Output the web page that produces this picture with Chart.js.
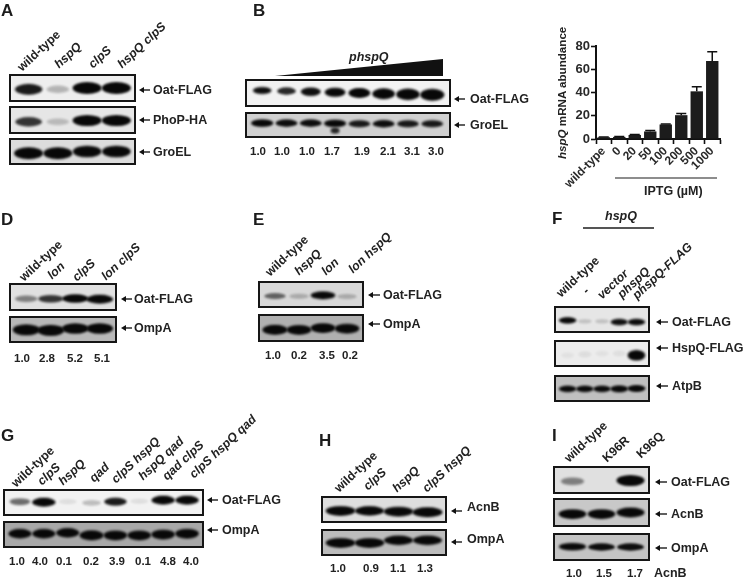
<!DOCTYPE html>
<html>
<head>
<meta charset="utf-8">
<title>HspQ blots</title>
<script src="https://cdn.jsdelivr.net/npm/chart.js@4"></script>
<style>
  html, body { margin: 0; padding: 0; background: #fff; }
  #fig { position: relative; width: 747px; height: 580px; overflow: hidden; font-family: "Liberation Sans", Arial, sans-serif; color: #222; filter: blur(0.3px); }
  #fig canvas { position: absolute; }
  #marks { position: absolute; left: 0; top: 0; }
  .t { position: absolute; white-space: nowrap; font-weight: bold; line-height: 14px; }
  .letter { font-size: 17px; line-height: 18px; color: #1c1c1c; }
  .name { font-size: 12.5px; transform: translateY(-50%); }
  .num { font-size: 11.5px; transform: translate(-50%, -50%); }
  .lane { font-size: 12.3px; font-style: italic; transform-origin: 0 100%; transform: rotate(-43deg); }
  .lane.plain { font-style: normal; }
</style>
</head>
<body>
<div id="fig">
  <svg id="marks" width="747" height="580"></svg>
</div>
<script>
"use strict";

// lane names
const aLanes = ['wild-type', 'hspQ', 'clpS', 'hspQ clpS'];
const dLanes = ['wild-type', 'lon', 'clpS', 'lon clpS'];
const eLanes = ['wild-type', 'hspQ', 'lon', 'lon hspQ'];
const fLanes = ['wild-type', '-', 'vector', 'phspQ', 'phspQ-FLAG'];
const gLanes = ['wild-type', 'clpS', 'hspQ', 'qad', 'clpS hspQ', 'hspQ qad', 'qad clpS', 'clpS hspQ qad'];
const hLanes = ['wild-type', 'clpS', 'hspQ', 'clpS hspQ'];
const iLanes = ['wild-type', 'K96R', 'K96Q'];
const plainLanes = ['wild-type', '-', 'K96R', 'K96Q'];

// printed quantification under the blots
const bNums = ['1.0', '1.0', '1.0', '1.7', '1.9', '2.1', '3.1', '3.0'];
const dNums = ['1.0', '2.8', '5.2', '5.1'];
const eNums = ['1.0', '0.2', '3.5', '0.2'];
const gNums = ['1.0', '4.0', '0.1', '0.2', '3.9', '0.1', '4.8', '4.0'];
const hNums = ['1.0', '0.9', '1.1', '1.3'];
const iNums = ['1.0', '1.5', '1.7'];

// band darkness per lane (0 - 1) and how far down the strip it ran (0 - 1)
const aOat = [0.8, 0.22, 1, 1];
const aOatRun = [0.57, 0.57, 0.5, 0.5];
const aPhoP = [0.7, 0.18, 1, 1];
const aPhoPRun = [0.6, 0.6, 0.53, 0.53];
const aGro = [1, 1, 0.95, 0.95];
const aGroRun = [0.6, 0.6, 0.5, 0.5];

const bOat = [0.85, 0.75, 0.85, 0.9, 0.95, 1, 1, 1];
const bOatRun = [0.36, 0.39, 0.43, 0.46, 0.5, 0.54, 0.57, 0.6];
const bGro = [0.9, 0.85, 0.85, 0.9, 0.8, 0.85, 0.8, 0.8];
const bGroRun = [0.38, 0.38, 0.38, 0.4, 0.42, 0.42, 0.42, 0.42];
const bGroSmudge = [0, 0, 0, 0.75, 0, 0, 0, 0];
const bGroSmudgeRun = [0.85, 0.85, 0.85, 0.85, 0.85, 0.85, 0.85, 0.85];

const dOat = [0.4, 0.7, 0.9, 0.95];
const dOatRun = [0.6, 0.6, 0.58, 0.62];
const dOmp = [1, 1, 0.95, 0.95];
const dOmpRun = [0.52, 0.55, 0.44, 0.44];

const eOat = [0.5, 0.2, 0.95, 0.2];
const eOatRun = [0.59, 0.6, 0.55, 0.62];
const eOmp = [1, 0.95, 0.95, 0.95];
const eOmpRun = [0.6, 0.6, 0.5, 0.53];

const fOat = [0.9, 0.15, 0.15, 0.85, 0.9];
const fOatRun = [0.55, 0.6, 0.6, 0.65, 0.65];
const fHsp = [0.04, 0.06, 0.04, 0.05, 0.95];
const fHspRun = [0.6, 0.55, 0.5, 0.5, 0.6];
const fAtp = [0.9, 0.9, 0.9, 0.95, 0.95];
const fAtpRun = [0.52, 0.52, 0.52, 0.52, 0.5];

const gOat = [0.5, 0.95, 0.08, 0.2, 0.8, 0.08, 0.95, 0.95];
const gOatRun = [0.45, 0.48, 0.45, 0.52, 0.45, 0.42, 0.36, 0.36];
const gOmp = [0.9, 0.9, 0.9, 1, 0.95, 0.95, 0.95, 0.95];
const gOmpRun = [0.45, 0.45, 0.4, 0.55, 0.55, 0.55, 0.5, 0.45];

const hAcn = [0.95, 0.9, 0.95, 1];
const hAcnRun = [0.58, 0.58, 0.62, 0.66];
const hOmp = [0.95, 0.95, 0.9, 0.9];
const hOmpRun = [0.52, 0.52, 0.37, 0.37];

const iOat = [0.4, 0, 1];
const iOatRun = [0.57, 0.57, 0.53];
const iAcn = [0.95, 0.95, 1];
const iAcnRun = [0.58, 0.58, 0.5];
const iOmp = [0.9, 0.85, 0.85];
const iOmpRun = [0.48, 0.5, 0.5];

// panel C
const iptgLabels = ['wild-type', '0', '20', '50', '100', '200', '500', '1000'];
const mrnaMean = [1.5, 1.8, 3.5, 6.5, 12.5, 20.5, 41, 67];
const mrnaTop = [1.8, 2.1, 3.9, 7.3, 13, 22, 45, 75];
const mrnaTicks = [0, 20, 40, 60, 80];

// layout of the panels, pixels on the page
const panels = [
  { letter: 'A', lx: 1, ly: 2, lanes: aLanes, laneX: [18, 55, 89, 118], laneY: [71, 68, 68, 68],
    x: 9, w: 127, first: 28, last: 120, bandW: 29, arrow: [139, 150], tx: 153,
    strips: [
      { name: 'Oat-FLAG', y: 74, h: 28, bands: aOat, run: aOatRun, bg: '#eeeeee', bandH: 12, ty: 90 },
      { name: 'PhoP-HA', y: 106, h: 28, bands: aPhoP, run: aPhoPRun, bg: '#e6e6e6', bandH: 11, ty: 120 },
      { name: 'GroEL', y: 138, h: 27, bands: aGro, run: aGroRun, bg: '#dcdcdc', bandH: 12, ty: 152 }
    ] },
  { letter: 'B', lx: 253, ly: 2, x: 245, w: 206, first: 259, last: 432, bandW: 23, arrow: [454, 465], tx: 470,
    nums: bNums, numX: [258, 282, 307, 332, 362, 388, 412, 436], numY: 151,
    strips: [
      { name: 'Oat-FLAG', y: 79, h: 28, bands: bOat, run: bOatRun, bg: '#f2f2f2', bandH: 9, ty: 99, grow: true },
      { name: 'GroEL', y: 112, h: 26, bands: bGro, run: bGroRun, bg: '#d0d0d0', bandH: 8, ty: 125,
        smudge: bGroSmudge, smudgeRun: bGroSmudgeRun }
    ] },
  { letter: 'D', lx: 1, ly: 211, lanes: dLanes, laneX: [20, 48, 73, 102], laneY: [281, 279, 281, 280],
    x: 9, w: 108, first: 25, last: 103, bandW: 27, arrow: [121, 132], tx: 134,
    nums: dNums, numX: [22, 47, 75, 102], numY: 358,
    strips: [
      { name: 'Oat-FLAG', y: 283, h: 28, bands: dOat, run: dOatRun, bg: '#e0e0e0', bandH: 9, ty: 299 },
      { name: 'OmpA', y: 316, h: 27, bands: dOmp, run: dOmpRun, bg: '#b8b8b8', bandH: 11, ty: 328 }
    ] },
  { letter: 'E', lx: 253, ly: 211, lanes: eLanes, laneX: [266, 295, 322, 349], laneY: [276, 275, 275, 273],
    x: 258, w: 106, first: 273, last: 350, bandW: 25, arrow: [368, 380], tx: 383,
    nums: eNums, numX: [273, 299, 327, 350], numY: 355,
    strips: [
      { name: 'Oat-FLAG', y: 281, h: 27, bands: eOat, run: eOatRun, bg: '#d8d8d8', bandH: 8, ty: 295 },
      { name: 'OmpA', y: 314, h: 28, bands: eOmp, run: eOmpRun, bg: '#b0b0b0', bandH: 10, ty: 324 }
    ] },
  { letter: 'F', lx: 552, ly: 210, lanes: fLanes, laneX: [557, 583, 598, 618, 633], laneY: [297, 294, 299, 298, 299],
    x: 554, w: 96, first: 566, last: 641, bandW: 18, arrow: [656, 668], tx: 672,
    strips: [
      { name: 'Oat-FLAG', y: 306, h: 27, bands: fOat, run: fOatRun, bg: '#e6e6e6', bandH: 7, ty: 322 },
      { name: 'HspQ-FLAG', y: 340, h: 27, bands: fHsp, run: fHspRun, bg: '#ececec', bandH: 11, ty: 348 },
      { name: 'AtpB', y: 375, h: 27, bands: fAtp, run: fAtpRun, bg: '#c0c0c0', bandH: 7, ty: 386 }
    ] },
  { letter: 'G', lx: 1, ly: 427, lanes: gLanes, laneX: [12, 38, 59, 90, 112, 139, 163, 190], laneY: [487, 485, 485, 482, 483, 480, 480, 478],
    x: 3, w: 201, first: 18, last: 190, bandW: 24, arrow: [207, 218], tx: 222,
    nums: gNums, numX: [17, 40, 64, 91, 117, 143, 168, 191], numY: 561,
    strips: [
      { name: 'Oat-FLAG', y: 489, h: 27, bands: gOat, run: gOatRun, bg: '#f2f2f2', bandH: 9, ty: 500 },
      { name: 'OmpA', y: 521, h: 27, bands: gOmp, run: gOmpRun, bg: '#a8a8a8', bandH: 10, ty: 530 }
    ] },
  { letter: 'H', lx: 319, ly: 432, lanes: hLanes, laneX: [335, 364, 393, 423], laneY: [492, 490, 492, 492],
    x: 321, w: 126, first: 338, last: 428, bandW: 30, arrow: [451, 462], tx: 467,
    nums: hNums, numX: [338, 371, 398, 425], numY: 568,
    strips: [
      { name: 'AcnB', y: 496, h: 27, bands: hAcn, run: hAcnRun, bg: '#dedede', bandH: 10, ty: 507, ay: 511 },
      { name: 'OmpA', y: 529, h: 27, bands: hOmp, run: hOmpRun, bg: '#bcbcbc', bandH: 10, ty: 539, ay: 542 }
    ] },
  { letter: 'I', lx: 552, ly: 427, lanes: iLanes, laneX: [565, 603, 637], laneY: [462, 462, 458],
    x: 553, w: 97, first: 573, last: 634, bandW: 28, arrow: [655, 667], tx: 671,
    nums: iNums, numX: [574, 604, 635], numY: 573,
    strips: [
      { name: 'Oat-FLAG', y: 466, h: 28, bands: iOat, run: iOatRun, bg: '#e0e0e0', bandH: 11, ty: 482 },
      { name: 'AcnB', y: 498, h: 29, bands: iAcn, run: iAcnRun, bg: '#c8c8c8', bandH: 10, ty: 514 },
      { name: 'OmpA', y: 533, h: 28, bands: iOmp, run: iOmpRun, bg: '#c4c4c4', bandH: 8, ty: 548 }
    ] }
];

const fig = document.getElementById('fig');
const marks = document.getElementById('marks');

const addText = (x, y, str, cls) => {
  const el = document.createElement('div');
  el.className = 't ' + cls;
  el.style.left = x + 'px';
  el.style.top = y + 'px';
  el.innerHTML = str;
  fig.append(el);
  return el;
};

const addSvg = (tag, attrs) => {
  const el = document.createElementNS('http://www.w3.org/2000/svg', tag);
  Object.keys(attrs).forEach(k => el.setAttribute(k, attrs[k]));
  marks.append(el);
};

const addLine = (x1, y1, x2, y2, width) => {
  addSvg('line', { x1, y1, x2, y2, stroke: '#1c1c1c', 'stroke-width': width });
};

const addArrow = (x1, x2, y) => {
  addLine(x1 + 3, y, x2, y, 1.4);
  addSvg('polygon', { points: x1 + ',' + y + ' ' + (x1 + 5) + ',' + (y - 3) + ' ' + (x1 + 5) + ',' + (y + 3), fill: '#111' });
};

// a blurred band, used as the point image of a lane
const bandImage = (darkness, w, h) => {
  const pad = 7;
  const c = document.createElement('canvas');
  c.width = Math.ceil(w + pad * 2);
  c.height = Math.ceil(h + pad * 2);
  const ctx = c.getContext('2d');
  ctx.filter = 'blur(1px)';
  ctx.fillStyle = 'rgba(8,8,8,' + Math.min(1, darkness * 1.15) + ')';
  ctx.beginPath();
  ctx.ellipse(c.width / 2, c.height / 2, w / 2, h / 2, 0, 0, Math.PI * 2);
  ctx.fill();
  return c;
};

const stripFrame = {
  id: 'stripFrame',
  beforeDraw: (chart, args, opts) => {
    const ctx = chart.ctx;
    ctx.save();
    ctx.fillStyle = opts.bg;
    ctx.fillRect(0, 0, chart.width, chart.height);
    ctx.restore();
  },
  afterDraw: (chart) => {
    const ctx = chart.ctx;
    ctx.save();
    ctx.strokeStyle = '#161616';
    ctx.lineWidth = 2;
    ctx.strokeRect(1, 1, chart.width - 2, chart.height - 2);
    ctx.restore();
  }
};

const drawStrip = (panel, strip) => {
  const canvas = document.createElement('canvas');
  canvas.width = panel.w;
  canvas.height = strip.h;
  canvas.style.left = panel.x + 'px';
  canvas.style.top = strip.y + 'px';
  fig.append(canvas);

  const n = strip.bands.length;
  const step = (panel.last - panel.first) / (n - 1);
  const padLeft = Math.max(0, panel.first - step / 2 - panel.x);
  const padRight = Math.max(0, panel.x + panel.w - panel.last - step / 2);

  const laneBand = (values, context) => {
    const d = values[context.dataIndex];
    const along = context.dataIndex / (n - 1);
    const w = panel.bandW * (0.72 + 0.28 * d) * (strip.grow ? 0.85 + 0.2 * along : 1);
    const h = strip.bandH * (0.5 + 0.5 * d) * (strip.grow ? 0.85 + 0.5 * along : 1);
    return bandImage(d, w, h);
  };

  const datasets = [{
    data: strip.run,
    showLine: false,
    clip: false,
    pointRadius: 4,
    pointStyle: (context) => laneBand(strip.bands, context)
  }];
  if (strip.smudge) {
    datasets.push({
      data: strip.smudgeRun,
      showLine: false,
      clip: false,
      pointRadius: 4,
      pointStyle: (context) => bandImage(strip.smudge[context.dataIndex], 9, 6)
    });
  }

  return new Chart(canvas, {
    type: 'line',
    data: { labels: panel.lanes || strip.bands.map((v, i) => i + 1), datasets },
    plugins: [stripFrame],
    options: {
      responsive: false,
      animation: false,
      events: [],
      layout: { padding: { left: padLeft, right: padRight, top: 0, bottom: 0 } },
      plugins: { legend: { display: false }, tooltip: { enabled: false }, stripFrame: { bg: strip.bg } },
      scales: {
        x: { display: false, offset: true },
        y: { display: false, min: 0, max: 1, reverse: true }
      }
    }
  });
};

panels.forEach((panel) => {
  addText(panel.lx, panel.ly, panel.letter, 'letter');
  if (panel.lanes) {
    panel.lanes.forEach((lane, i) => {
      const cls = plainLanes.includes(lane) ? 'lane plain' : 'lane';
      addText(panel.laneX[i] + 6, panel.laneY[i] - 11, lane, cls);
    });
  }
  panel.strips.forEach((strip) => {
    drawStrip(panel, strip);
    addArrow(panel.arrow[0], panel.arrow[1], strip.ay || strip.ty);
    addText(panel.tx, strip.ty, strip.name, 'name');
  });
  if (panel.nums) {
    panel.nums.forEach((num, i) => addText(panel.numX[i], panel.numY, num, 'num'));
  }
});

// text and marks that belong to single panels
addText(349, 57, 'phspQ', 'name').style.fontStyle = 'italic';
addSvg('polygon', { points: '275,76 443,59 443,76', fill: '#111' });
addText(654, 573, 'AcnB', 'name');
addText(605, 216, 'hspQ', 'name').style.fontStyle = 'italic';
addLine(583, 228, 654, 228, 1.6);

// panel C
const errorCaps = {
  id: 'errorCaps',
  afterDatasetsDraw: (chart) => {
    const ctx = chart.ctx;
    const y = chart.scales.y;
    ctx.save();
    ctx.strokeStyle = '#111';
    ctx.lineWidth = 1.5;
    chart.getDatasetMeta(0).data.forEach((bar, i) => {
      const top = y.getPixelForValue(mrnaTop[i]);
      ctx.beginPath();
      ctx.moveTo(bar.x, y.getPixelForValue(mrnaMean[i]));
      ctx.lineTo(bar.x, top);
      ctx.moveTo(bar.x - 5, top);
      ctx.lineTo(bar.x + 5, top);
      ctx.stroke();
    });
    ctx.restore();
  }
};

const tickFont = { family: '"Liberation Sans", Arial, sans-serif', size: 12, weight: 'bold' };

const mrnaCanvas = document.createElement('canvas');
mrnaCanvas.width = 173;
mrnaCanvas.height = 162;
mrnaCanvas.style.left = '562px';
mrnaCanvas.style.top = '30px';
fig.append(mrnaCanvas);

new Chart(mrnaCanvas, {
  type: 'bar',
  data: {
    labels: iptgLabels,
    datasets: [{ data: mrnaMean, backgroundColor: '#1c1c1c', categoryPercentage: 1, barPercentage: 0.8 }]
  },
  plugins: [errorCaps],
  options: {
    responsive: false,
    animation: false,
    events: [],
    layout: { padding: { top: 16, right: 15, left: 0, bottom: 0 } },
    plugins: { legend: { display: false }, tooltip: { enabled: false } },
    scales: {
      x: {
        grid: { drawOnChartArea: false, tickLength: 5, tickWidth: 1.6, tickColor: '#111' },
        border: { color: '#111', width: 2 },
        ticks: { minRotation: 45, maxRotation: 45, autoSkip: false, color: '#2a2a2a', font: tickFont, padding: 0 },
        afterFit: (scale) => { scale.height = 53; }
      },
      y: {
        min: 0,
        max: 80,
        afterBuildTicks: (scale) => { scale.ticks = mrnaTicks.map(value => ({ value })); },
        grid: { drawOnChartArea: false, tickLength: 5, tickWidth: 1.6, tickColor: '#111' },
        border: { color: '#111', width: 2 },
        ticks: { color: '#2a2a2a', font: { ...tickFont, size: 13 }, padding: 1 },
        afterFit: (scale) => { scale.width = 34; }
      }
    }
  }
});

const yTitle = addText(569, 152, '<i>hspQ</i> mRNA abundance', '');
yTitle.style.fontSize = '11.6px';
yTitle.style.transformOrigin = '0 50%';
yTitle.style.transform = 'rotate(-90deg) translateY(-50%)';
addLine(615, 178, 717, 178, 1.2);
addText(644, 191, 'IPTG (µM)', 'name');
</script>
</body>
</html>
